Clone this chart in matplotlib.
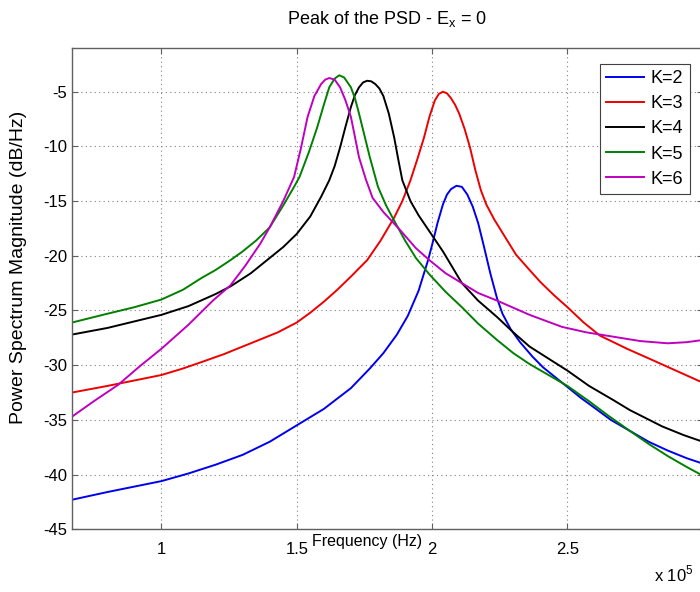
import matplotlib.pyplot as plt
import numpy as np

plt.rcParams['font.family'] = ['Liberation Sans', 'DejaVu Sans']
plt.rcParams['axes.unicode_minus'] = False

# frequency in units of 1e5 Hz, PSD in dB/Hz
x_k2 = [0.67, 0.8, 0.9, 1.0, 1.1, 1.2, 1.3, 1.4, 1.5, 1.6, 1.7, 1.77, 1.82, 1.87, 1.91, 1.95, 1.985, 2.0,
        2.02, 2.04, 2.055, 2.07, 2.09, 2.11, 2.13, 2.15, 2.17, 2.19, 2.215, 2.24, 2.26, 2.29, 2.325, 2.37,
        2.41, 2.46, 2.5, 2.55, 2.6, 2.66, 2.73, 2.8, 2.87, 2.94, 3.0]
y_k2 = [-42.3, -41.6, -41.1, -40.6, -39.9, -39.1, -38.2, -37.0, -35.5, -34.0, -32.1, -30.3, -28.9, -27.2, -25.5,
        -23.2, -20.4, -19.0, -17.0, -15.3, -14.4, -13.9, -13.6, -13.7, -14.4, -15.5, -17.0, -19.0, -21.6, -23.9,
        -25.3, -26.7, -27.9, -29.2, -30.2, -31.2, -32.0, -33.0, -33.9, -35.0, -36.0, -37.0, -37.8, -38.5, -39.0]

x_k3 = [0.67, 0.8, 0.9, 1.0, 1.08, 1.15, 1.23, 1.3, 1.37, 1.43, 1.5, 1.55, 1.6, 1.65, 1.7, 1.76, 1.81,
        1.86, 1.89, 1.92, 1.945, 1.97, 1.99, 2.01, 2.025, 2.04, 2.055, 2.07, 2.085, 2.1, 2.12, 2.14, 2.16,
        2.18, 2.2, 2.23, 2.27, 2.31, 2.36, 2.4, 2.45, 2.5, 2.56, 2.62, 2.72, 2.82, 2.91, 3.0]
y_k3 = [-32.5, -31.9, -31.4, -30.9, -30.3, -29.7, -29.0, -28.3, -27.6, -27.0, -26.1, -25.2, -24.2, -23.1, -21.9,
        -20.4, -18.6, -16.5, -15.0, -13.1, -11.2, -9.2, -7.3, -5.8, -5.2, -5.0, -5.15, -5.6, -6.2, -7.0, -8.4,
        -10.1, -12.2, -14.0, -15.3, -16.7, -18.3, -19.9, -21.3, -22.4, -23.6, -24.7, -26.1, -27.3, -28.5, -29.6,
        -30.6, -31.6]

x_k4 = [0.67, 0.8, 0.9, 1.0, 1.1, 1.2, 1.255, 1.33, 1.4, 1.45, 1.5, 1.55, 1.59, 1.62, 1.64, 1.66, 1.68,
        1.70, 1.715, 1.73, 1.745, 1.76, 1.775, 1.79, 1.805, 1.82, 1.84, 1.86, 1.875, 1.89, 1.92, 1.95, 1.98,
        2.04, 2.11, 2.17, 2.24, 2.30, 2.36, 2.43, 2.5, 2.58, 2.67, 2.73, 2.85, 2.93, 3.0]
y_k4 = [-27.2, -26.6, -26.0, -25.4, -24.6, -23.5, -22.8, -21.6, -20.2, -19.2, -18.0, -16.4, -14.6, -13.1, -11.8,
        -10.1, -8.2, -6.4, -5.3, -4.6, -4.15, -4.0, -4.05, -4.3, -4.7, -5.4, -7.0, -9.2, -11.2, -13.1, -15.0,
        -16.3, -17.4, -19.6, -22.5, -24.1, -25.6, -27.0, -28.3, -29.4, -30.5, -31.9, -33.2, -34.1, -35.6, -36.4,
        -37.0]

x_k5 = [0.67, 0.8, 0.9, 1.0, 1.08, 1.15, 1.2, 1.255, 1.30, 1.35, 1.40, 1.45, 1.49, 1.51, 1.545, 1.575,
        1.60, 1.62, 1.64, 1.657, 1.675, 1.70, 1.715, 1.73, 1.75, 1.77, 1.80, 1.83, 1.86, 1.90, 1.94, 1.99,
        2.05, 2.11, 2.17, 2.24, 2.30, 2.36, 2.43, 2.5, 2.58, 2.65, 2.73, 2.8, 2.87, 2.94, 3.0]
y_k5 = [-26.1, -25.3, -24.7, -24.0, -23.1, -22.0, -21.3, -20.4, -19.6, -18.6, -17.4, -15.4, -13.7, -12.8, -10.5,
        -8.3, -6.2, -4.6, -3.8, -3.5, -3.7, -4.6, -5.6, -7.0, -9.0, -11.0, -13.7, -15.4, -16.8, -18.6, -20.2,
        -21.7, -23.3, -24.7, -26.2, -27.7, -28.9, -29.9, -30.9, -31.9, -33.3, -34.6, -36.0, -37.2, -38.3, -39.3,
        -40.1]

x_k6 = [0.67, 0.75, 0.84, 0.92, 1.0, 1.1, 1.19, 1.255, 1.31, 1.365, 1.40, 1.45, 1.49, 1.515, 1.54, 1.565,
        1.59, 1.605, 1.62, 1.64, 1.66, 1.68, 1.70, 1.73, 1.755, 1.78, 1.82, 1.88, 1.94, 1.99, 2.05, 2.11, 2.17,
        2.24, 2.36, 2.48, 2.57, 2.67, 2.77, 2.87, 2.94, 3.0]
y_k6 = [-34.7, -33.3, -31.8, -30.1, -28.5, -26.3, -24.1, -22.7, -20.9, -18.9, -17.4, -15.0, -12.8, -10.2, -7.3,
        -5.4, -4.3, -3.9, -3.75, -3.9, -4.6, -5.8, -7.3, -11.0, -13.0, -14.7, -16.0, -17.6, -19.3, -20.4, -21.6,
        -22.5, -23.4, -24.1, -25.4, -26.5, -27.0, -27.4, -27.8, -28.0, -27.9, -27.7]

labels = ['K=2', 'K=3', 'K=4', 'K=5', 'K=6']
colors = ['#0000ee', '#ee0000', '#000000', '#008000', '#bf00bf']

x_ticks = [1, 1.5, 2, 2.5, 3]
y_ticks = [-45, -40, -35, -30, -25, -20, -15, -10, -5]

fig = plt.figure(figsize=(7, 5.92), dpi=100)
ax = fig.add_axes([0.103, 0.106, 0.901, 0.813])

series = [(x_k2, y_k2), (x_k3, y_k3), (x_k4, y_k4), (x_k5, y_k5), (x_k6, y_k6)]
for (xs, ys), lab, c in zip(series, labels, colors):
    ax.plot(xs, ys, color=c, lw=1.4, label=lab, solid_joinstyle='round')

ax.set_xlim(0.67, 3.0)
ax.set_ylim(-45, -1)
ax.set_xticks(x_ticks)
ax.set_xticklabels(['1', '1.5', '2', '2.5', ''])
ax.set_yticks(y_ticks)
ax.tick_params(direction='in', labelsize=12, top=True, right=True, color='#606060', length=4)
ax.tick_params(axis='x', pad=9)
ax.grid(True, linestyle=(0, (1, 3)), color='#808080', lw=0.8)
for s in ax.spines.values():
    s.set_color('#606060')
    s.set_linewidth(1.0)

ax.set_title('Peak of the PSD - E$_\\mathregular{x}$ = 0', fontsize=13, pad=17)
ax.set_xlabel('Frequency (Hz)', fontsize=11.5)
ax.xaxis.set_label_coords(0.468, -0.01)
ax.set_ylabel('Power Spectrum Magnitude (dB/Hz)', fontsize=14)
ax.yaxis.set_label_coords(-0.072, 0.545)

fig.text(0.935, 0.018, 'x 10$^\\mathregular{5}$', fontsize=12)

leg = ax.legend(loc='upper right', bbox_to_anchor=(0.979, 0.967), fontsize=13,
                fancybox=False, framealpha=1, edgecolor='#404040', handlelength=2.1,
                handletextpad=0.35, borderaxespad=0, labelspacing=0.45, borderpad=0.35)
leg.get_frame().set_linewidth(0.8)

fig.savefig('out.png', dpi=100)
